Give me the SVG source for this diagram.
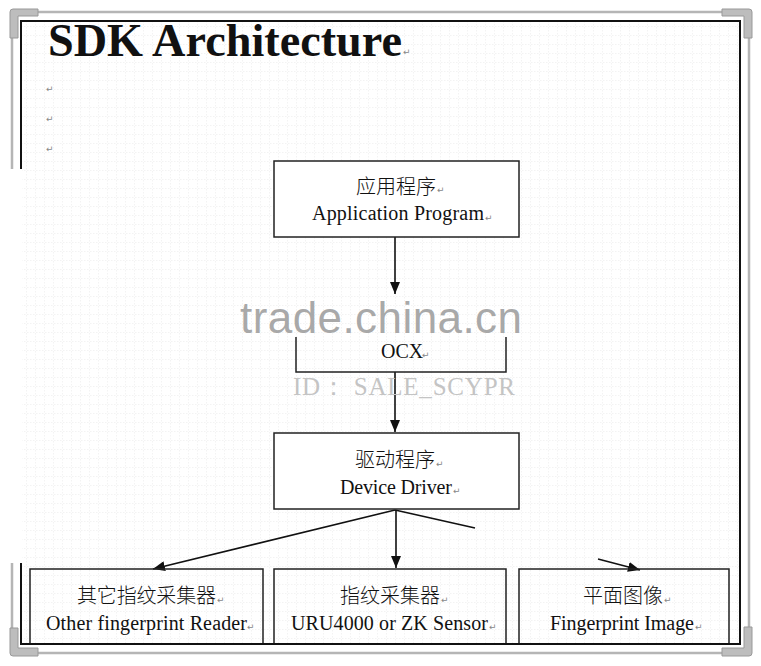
<svg xmlns="http://www.w3.org/2000/svg" width="761" height="666" viewBox="0 0 761 666">
<style>
.box{fill:#fff;stroke:#222;stroke-width:1.5}
.open{fill:none;stroke:#222;stroke-width:1.5}
.en{font-family:"Liberation Serif","Times New Roman",serif;font-size:20px;fill:#111}
.zh{font-family:"Noto Sans CJK SC","Noto Sans CJK TC",sans-serif;font-size:20px;fill:#111;font-weight:300}
.rt{font-family:"DejaVu Sans",sans-serif;font-size:9px;fill:#888}
.conn{stroke:#111;stroke-width:1.6;fill:none}
.frame-g{stroke:#b5b5b5;stroke-width:2.5;fill:none}
.frame-b{stroke:#111;stroke-width:2;fill:none}
.corner{fill:#bdbdbd;stroke:#999;stroke-width:1}
</style>
<defs>
<marker id="ah" markerWidth="12" markerHeight="10" refX="12" refY="5" orient="auto" markerUnits="userSpaceOnUse">
<path d="M0,0 L12,5 L0,10 Z" fill="#111"/>
</marker>
<pattern id="grid" width="9" height="9" patternUnits="userSpaceOnUse">
<path d="M0,8.5 H9 M8.5,0 V9" stroke="#f3f3f3" stroke-width="1" stroke-dasharray="1.5,1.5"/>
</pattern>
</defs>
<rect width="761" height="666" fill="#fff"/>
<rect x="22" y="22" width="717" height="621" fill="url(#grid)"/>
<g id="frame">
<path class="frame-g" d="M38,12 H722 M749,38 V627 M38,653 H722 M12,38 V169 M12,563 V628"/>
<path class="frame-b" d="M21,169 V21 H740 V644 H21 V563"/>
<path class="corner" d="M13,9 H38 V16 H18 V38 H10 V12 Q10,9 13,9 Z"/>
<path class="corner" d="M722,9 H749 Q752,9 752,12 V38 H744 V16 H722 Z"/>
<path class="corner" d="M10,628 H18 V648 H38 V656 H13 Q10,656 10,653 Z"/>
<path class="corner" d="M744,627 H752 V653 Q752,656 749,656 H722 V648 H744 Z"/>
</g>
<g id="title">
<text x="48" y="56" font-family="Liberation Serif,Times New Roman,serif" font-size="46" font-weight="bold" fill="#111" textLength="354" lengthAdjust="spacingAndGlyphs">SDK Architecture</text>
<text class="rt" x="403" y="55">↵</text>
<text class="rt" x="46" y="92">↵</text>
<text class="rt" x="46" y="122">↵</text>
<text class="rt" x="46" y="152">↵</text>
</g>
<g id="connectors">
<line class="conn" x1="395" y1="237" x2="395" y2="294" marker-end="url(#ah)"/>
<line class="conn" x1="395" y1="372" x2="395" y2="432" marker-end="url(#ah)"/>
<line class="conn" x1="395" y1="510" x2="153" y2="569" marker-end="url(#ah)"/>
<line class="conn" x1="396" y1="510" x2="396" y2="568" marker-end="url(#ah)"/>
<line class="conn" x1="395" y1="510" x2="475" y2="528"/>
<line class="conn" x1="598" y1="559" x2="640" y2="570" marker-end="url(#ah)"/>
</g>
<g id="app">
<rect class="box" x="274" y="161" width="245" height="76"/>
<text class="zh" x="356" y="194">应用程序</text>
<text class="rt" x="437" y="193">↵</text>
<text class="en" x="312" y="220" textLength="172">Application Program</text>
<text class="rt" x="485" y="221">↵</text>
</g>
<g id="ocx">
<path class="open" d="M296,337 V372 H506 V337"/>
<text class="en" x="381" y="358">OCX</text>
<text class="rt" x="422" y="358">↵</text>
</g>
<g id="driver">
<rect class="box" x="274" y="433" width="245" height="76"/>
<text class="zh" x="355" y="467">驱动程序</text>
<text class="rt" x="436" y="467">↵</text>
<text class="en" x="340" y="494" fill="#333" textLength="112">Device Driver</text>
<text class="rt" x="453" y="494">↵</text>
</g>
<g id="other">
<path class="open" d="M30,643 V569 H263 V643"/>
<text class="zh" x="77" y="603" textLength="139">其它指纹采集器</text>
<text class="rt" x="217" y="603">↵</text>
<text class="en" x="46" y="630" textLength="201">Other fingerprint Reader</text>
<text class="rt" x="247" y="630">↵</text>
</g>
<g id="uru">
<path class="open" d="M274,643 V569 H506 V643"/>
<text class="zh" x="340" y="603">指纹采集器</text>
<text class="rt" x="441" y="603">↵</text>
<text class="en" x="291" y="630" textLength="197">URU4000 or ZK Sensor</text>
<text class="rt" x="489" y="630">↵</text>
</g>
<g id="image">
<path class="open" d="M519,643 V569 H729 V643"/>
<text class="zh" x="583" y="603">平面图像</text>
<text class="rt" x="664" y="603">↵</text>
<text class="en" x="550" y="630" textLength="144">Fingerprint Image</text>
<text class="rt" x="695" y="630">↵</text>
</g>
<g id="watermark">
<text x="240" y="333" font-family="Liberation Sans,Arial,sans-serif" font-size="44" fill="#9a9a9a" fill-opacity="0.85" textLength="282">trade.china.cn</text>
<text x="293" y="395" font-family="Liberation Serif,Times New Roman,serif" font-size="25" fill="#c4c4c4" textLength="222" xml:space="preserve">ID： SALE_SCYPR</text>
</g>
</svg>
